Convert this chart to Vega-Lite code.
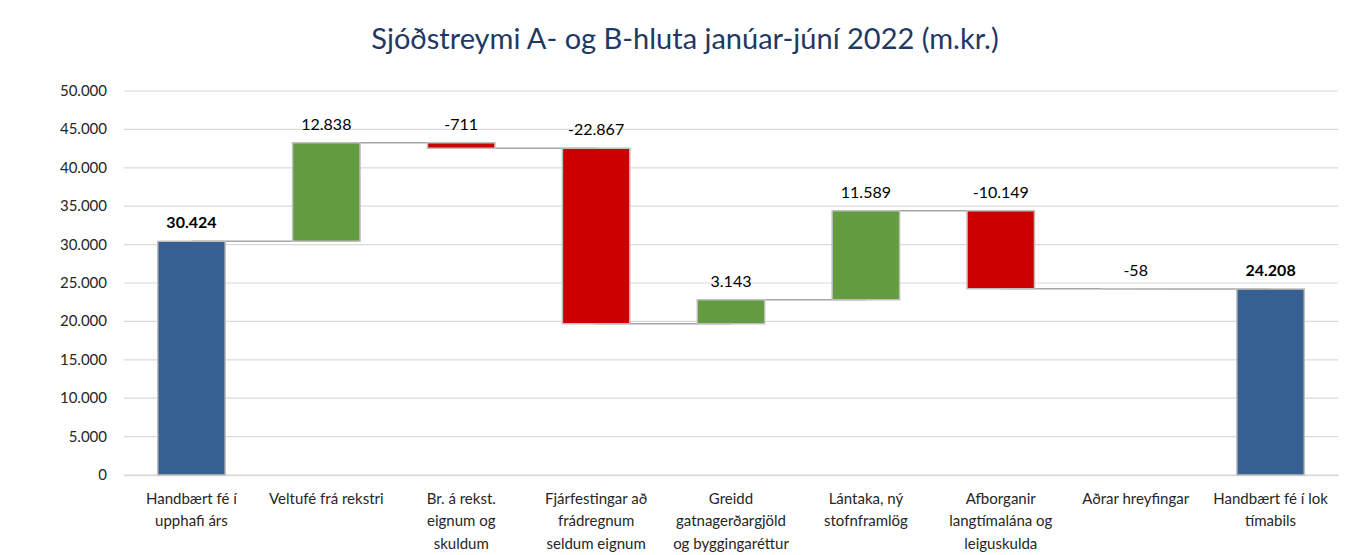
{
  "$schema": "https://vega.github.io/schema/vega-lite/v6.json",
  "autosize": "none",
  "width": 1214,
  "height": 384,
  "padding": {"left": 124, "top": 91, "right": 32, "bottom": 80},
  "background": "white",
  "config": {
    "locale": {"number": {"decimal": ",", "thousands": ".", "grouping": [3], "currency": ["", ""], "minus": "-"}},
    "view": {"stroke": null},
    "font": "Lato"
  },
  "title": {
    "text": "Sjóðstreymi A- og B-hluta janúar-júní 2022 (m.kr.)",
    "fontSize": 29,
    "fontWeight": "normal",
    "color": "#1F3864",
    "font": "Lato",
    "anchor": "middle",
    "frame": "group",
    "dx": -46,
    "offset": 29
  },
  "datasets": {
    "flows": [
      {"cat": "Handbært fé í|upphafi árs", "start": 0, "end": 30424, "top": 30424, "value": 30424, "type": "total", "next": "Veltufé frá rekstri"},
      {"cat": "Veltufé frá rekstri", "start": 30424, "end": 43262, "top": 43262, "value": 12838, "type": "inc", "next": "Br. á rekst.|eignum og|skuldum"},
      {"cat": "Br. á rekst.|eignum og|skuldum", "start": 43262, "end": 42551, "top": 43262, "value": -711, "type": "dec", "next": "Fjárfestingar að|frádregnum|seldum eignum"},
      {"cat": "Fjárfestingar að|frádregnum|seldum eignum", "start": 42551, "end": 19684, "top": 42551, "value": -22867, "type": "dec", "next": "Greidd|gatnagerðargjöld|og byggingaréttur"},
      {"cat": "Greidd|gatnagerðargjöld|og byggingaréttur", "start": 19684, "end": 22827, "top": 22827, "value": 3143, "type": "inc", "next": "Lántaka, ný|stofnframlög"},
      {"cat": "Lántaka, ný|stofnframlög", "start": 22827, "end": 34416, "top": 34416, "value": 11589, "type": "inc", "next": "Afborganir|langtímalána og|leiguskulda"},
      {"cat": "Afborganir|langtímalána og|leiguskulda", "start": 34416, "end": 24267, "top": 34416, "value": -10149, "type": "dec", "next": "Aðrar hreyfingar"},
      {"cat": "Aðrar hreyfingar", "start": 24267, "end": 24209, "top": 24267, "value": -58, "type": "dec", "next": "Handbært fé í lok|tímabils"},
      {"cat": "Handbært fé í lok|tímabils", "start": 0, "end": 24208, "top": 24208, "value": 24208, "type": "total", "next": null}
    ],
    "ticks": [
      {"tick": 0}, {"tick": 5000}, {"tick": 10000}, {"tick": 15000}, {"tick": 20000}, {"tick": 25000},
      {"tick": 30000}, {"tick": 35000}, {"tick": 40000}, {"tick": 45000}, {"tick": 50000}
    ]
  },
  "layer": [
    {
      "data": {"name": "ticks"},
      "mark": {"type": "rule", "color": "#D9D9D9", "strokeWidth": 1.2},
      "encoding": {
        "y": {
          "field": "tick",
          "type": "quantitative",
          "scale": {"domain": [0, 50000], "nice": false},
          "axis": null
        }
      }
    },
    {
      "data": {"name": "ticks"},
      "mark": {"type": "text", "align": "right", "baseline": "middle", "dx": -17, "fontSize": 15, "color": "#262626"},
      "encoding": {
        "x": {"value": 0},
        "y": {"field": "tick", "type": "quantitative"},
        "text": {"field": "tick", "type": "quantitative", "format": ",.0f"}
      }
    },
    {
      "data": {"name": "flows"},
      "mark": {"type": "rule", "color": "#A6A6A6", "strokeWidth": 1.5},
      "transform": [{"filter": "datum.next != null"}],
      "encoding": {
        "x": {
          "field": "cat",
          "type": "nominal",
          "scale": {
            "domain": [
              "Handbært fé í|upphafi árs",
              "Veltufé frá rekstri",
              "Br. á rekst.|eignum og|skuldum",
              "Fjárfestingar að|frádregnum|seldum eignum",
              "Greidd|gatnagerðargjöld|og byggingaréttur",
              "Lántaka, ný|stofnframlög",
              "Afborganir|langtímalána og|leiguskulda",
              "Aðrar hreyfingar",
              "Handbært fé í lok|tímabils"
            ],
            "paddingInner": 0.5,
            "paddingOuter": 0.25
          },
          "axis": {
            "title": null,
            "labelAngle": 0,
            "labelExpr": "split(datum.label, '|')",
            "labelFontSize": 15,
            "labelLineHeight": 22.5,
            "labelColor": "#262626",
            "labelPadding": 16,
            "labelLimit": 200,
            "ticks": false,
            "domain": true,
            "domainColor": "#D9D9D9",
            "domainWidth": 1.5,
            "labelBaseline": "top"
          }
        },
        "x2": {"field": "next"},
        "y": {"field": "end", "type": "quantitative"}
      }
    },
    {
      "data": {"name": "flows"},
      "mark": {"type": "bar", "stroke": "#BFBFBF", "strokeWidth": 1.5},
      "encoding": {
        "x": {"field": "cat", "type": "nominal"},
        "y": {"field": "start", "type": "quantitative"},
        "y2": {"field": "end"},
        "color": {
          "field": "type",
          "type": "nominal",
          "scale": {"domain": ["total", "inc", "dec"], "range": ["#376092", "#629B40", "#CC0000"]},
          "legend": null
        }
      }
    },
    {
      "data": {"name": "flows"},
      "mark": {"type": "text", "baseline": "bottom", "dy": -10, "fontSize": 16, "color": "#000000"},
      "transform": [{"filter": "datum.type != 'total'"}],
      "encoding": {
        "x": {"field": "cat", "type": "nominal"},
        "y": {"field": "top", "type": "quantitative"},
        "text": {"field": "value", "type": "quantitative", "format": ",.0f"}
      }
    },
    {
      "data": {"name": "flows"},
      "mark": {"type": "text", "baseline": "bottom", "dy": -10, "fontSize": 16, "fontWeight": "bold", "color": "#000000"},
      "transform": [{"filter": "datum.type == 'total'"}],
      "encoding": {
        "x": {"field": "cat", "type": "nominal"},
        "y": {"field": "top", "type": "quantitative"},
        "text": {"field": "value", "type": "quantitative", "format": ",.0f"}
      }
    }
  ]
}
